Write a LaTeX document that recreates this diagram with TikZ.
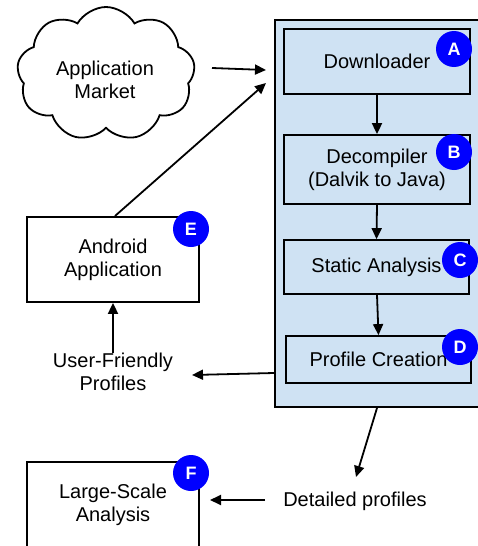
\documentclass[tikz,border=0pt]{standalone}
\usepackage{fontspec}
\setmainfont{Liberation Sans}
\usetikzlibrary{arrows.meta,shapes.symbols}
\definecolor{panel}{HTML}{CFE2F3}
\definecolor{badge}{HTML}{0000FF}
\tikzset{
  x=1pt,y=-1pt,
  every node/.style={font=\fontsize{20}{23}\selectfont, align=center},
  stepbox/.style={draw, line width=1.8pt, fill=panel, inner sep=0pt},
  whitebox/.style={draw, line width=1.8pt, fill=white, inner sep=0pt},
  badgec/.style={circle, fill=badge, text=white, inner sep=0pt, minimum size=36pt, font=\fontsize{18}{18}\selectfont\bfseries},
  arr/.style={line width=1.8pt, -{Triangle[length=11pt,width=10pt]}},
  lbl/.style={inner sep=0pt}
}
\begin{document}
\begin{tikzpicture}
\useasboundingbox (0,0) rectangle (478,546);
\clip (0,0) rectangle (478,546);
% panel
\node[draw, line width=1.8pt, fill=panel, minimum width=215pt, minimum height=387pt, inner sep=0pt] (panel) at (382.5,213.5) {};
% steps
\node[stepbox, minimum width=186pt, minimum height=65pt] (dl) at (377,61.5) {Downloader};
\node[stepbox, minimum width=186pt, minimum height=69pt] (dc) at (377,169.5) {Decompiler\\(Dalvik to Java)};
\node[stepbox, minimum width=185pt, minimum height=54pt] (sa) at (376.5,267) {Static Analysis};
\node[stepbox, minimum width=185pt, minimum height=47pt] (pc) at (378.5,359.5) {Profile Creation};
% cloud
\node[cloud, draw, line width=1.8pt, cloud puffs=9, cloud puff arc=120, aspect=1.35, minimum width=178pt, minimum height=134pt, inner sep=0pt] (cloud) at (106,74) {};
\node[lbl] (mkt) at (105,80) {Application\\Market};
% left boxes
\node[whitebox, minimum width=172pt, minimum height=85pt] (andr) at (113,259.5) {Android\\Application};
\node[whitebox, minimum width=172pt, minimum height=86pt] (lsa) at (113,505) {Large-Scale\\Analysis};
\node[lbl] (uf) at (113,372) {User-Friendly\\Profiles};
\node[lbl] (det) at (355,501) {Detailed profiles};
% badges
\node[badgec] (ba) at (454,49) {A};
\node[badgec] (bb) at (454,152) {B};
\node[badgec] (bc) at (460,260) {C};
\node[badgec] (bd) at (460,347) {D};
\node[badgec] (be) at (191,229) {E};
\node[badgec] (bf) at (191,473) {F};
% connectors
\draw[arr] (dl.south) -- (dc.north);
\draw[arr] (dc.south) -- (sa.north);
\draw[arr] (sa.south -| 377,0) -- (pc.north);
\coordinate (m1) at (212,68);
\coordinate (m2) at (266,70);
\draw[arr] (m1) -- (m2);
\coordinate (a1) at (115,216);
\coordinate (a2) at (266,83);
\draw[arr] (a1) -- (a2);
\draw[arr] (uf.north) -- (andr.south);
\coordinate (p1) at (274,373);
\coordinate (p2) at (192,375);
\draw[arr] (p1) -- (p2);
\coordinate (q1) at (377,408);
\coordinate (q2) at (356,477);
\draw[arr] (q1) -- (q2);
\coordinate (r1) at (265,500);
\coordinate (r2) at (210,500);
\draw[arr] (r1) -- (r2);
\end{tikzpicture}
\end{document}
